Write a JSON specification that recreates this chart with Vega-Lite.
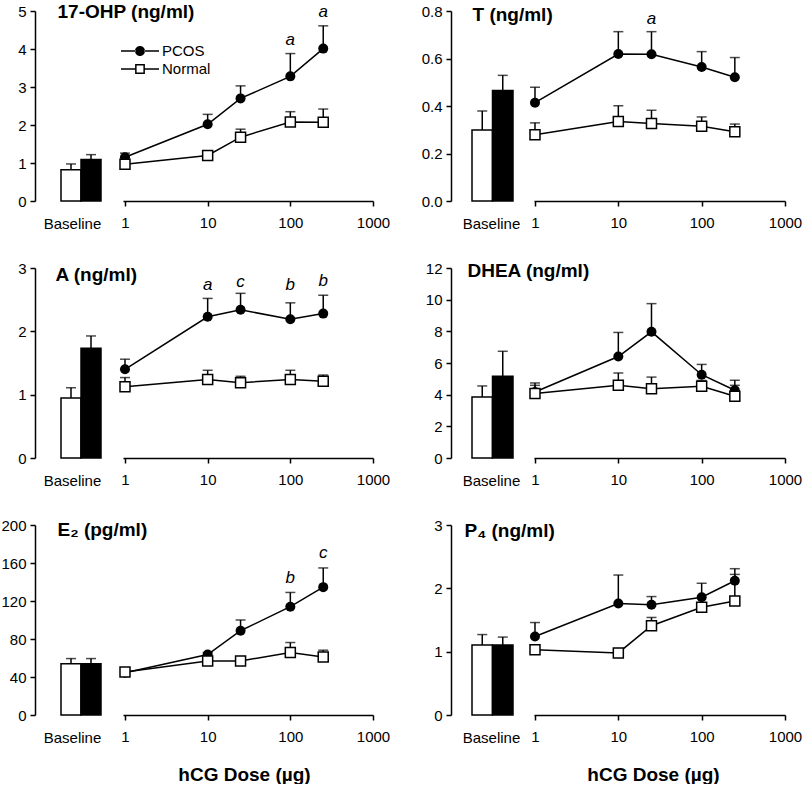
{
"$schema":"https://vega.github.io/schema/vega-lite/v6.json",
"background":"white",
"padding":{"left":0,"top":2,"right":0,"bottom":0},
"datasets":{
"pts":[
{"panel":"OHP","group":"PCOS","dose":1,"mean":1.15,"upper":1.26},
{"panel":"OHP","group":"PCOS","dose":10,"mean":2.02,"upper":2.28},
{"panel":"OHP","group":"PCOS","dose":25,"mean":2.70,"upper":3.03},
{"panel":"OHP","group":"PCOS","dose":100,"mean":3.28,"upper":3.88},
{"panel":"OHP","group":"PCOS","dose":250,"mean":4.01,"upper":4.61},
{"panel":"OHP","group":"Normal","dose":1,"mean":0.97,"upper":1.08},
{"panel":"OHP","group":"Normal","dose":10,"mean":1.20,"upper":1.25},
{"panel":"OHP","group":"Normal","dose":25,"mean":1.68,"upper":1.89},
{"panel":"OHP","group":"Normal","dose":100,"mean":2.08,"upper":2.35},
{"panel":"OHP","group":"Normal","dose":250,"mean":2.07,"upper":2.42},
{"panel":"T","group":"PCOS","dose":1,"mean":0.414,"upper":0.479},
{"panel":"T","group":"PCOS","dose":10,"mean":0.619,"upper":0.713},
{"panel":"T","group":"PCOS","dose":25,"mean":0.618,"upper":0.713},
{"panel":"T","group":"PCOS","dose":100,"mean":0.564,"upper":0.629},
{"panel":"T","group":"PCOS","dose":250,"mean":0.521,"upper":0.604},
{"panel":"T","group":"Normal","dose":1,"mean":0.279,"upper":0.329},
{"panel":"T","group":"Normal","dose":10,"mean":0.335,"upper":0.401},
{"panel":"T","group":"Normal","dose":25,"mean":0.326,"upper":0.382},
{"panel":"T","group":"Normal","dose":100,"mean":0.315,"upper":0.354},
{"panel":"T","group":"Normal","dose":250,"mean":0.292,"upper":0.324},
{"panel":"A","group":"PCOS","dose":1,"mean":1.40,"upper":1.56},
{"panel":"A","group":"PCOS","dose":10,"mean":2.23,"upper":2.52},
{"panel":"A","group":"PCOS","dose":25,"mean":2.34,"upper":2.60},
{"panel":"A","group":"PCOS","dose":100,"mean":2.19,"upper":2.45},
{"panel":"A","group":"PCOS","dose":250,"mean":2.28,"upper":2.57},
{"panel":"A","group":"Normal","dose":1,"mean":1.125,"upper":1.27},
{"panel":"A","group":"Normal","dose":10,"mean":1.24,"upper":1.385},
{"panel":"A","group":"Normal","dose":25,"mean":1.19,"upper":1.29},
{"panel":"A","group":"Normal","dose":100,"mean":1.24,"upper":1.385},
{"panel":"A","group":"Normal","dose":250,"mean":1.21,"upper":1.31},
{"panel":"DHEA","group":"PCOS","dose":1,"mean":4.17,"upper":4.74},
{"panel":"DHEA","group":"PCOS","dose":10,"mean":6.41,"upper":7.93},
{"panel":"DHEA","group":"PCOS","dose":25,"mean":7.97,"upper":9.75},
{"panel":"DHEA","group":"PCOS","dose":100,"mean":5.26,"upper":5.91},
{"panel":"DHEA","group":"PCOS","dose":250,"mean":4.28,"upper":4.91},
{"panel":"DHEA","group":"Normal","dose":1,"mean":4.07,"upper":4.59},
{"panel":"DHEA","group":"Normal","dose":10,"mean":4.59,"upper":5.37},
{"panel":"DHEA","group":"Normal","dose":25,"mean":4.38,"upper":5.11},
{"panel":"DHEA","group":"Normal","dose":100,"mean":4.53,"upper":4.9},
{"panel":"DHEA","group":"Normal","dose":250,"mean":3.90,"upper":4.59},
{"panel":"E2","group":"PCOS","dose":1,"mean":44.5,"upper":46},
{"panel":"E2","group":"PCOS","dose":10,"mean":63.6,"upper":65.7},
{"panel":"E2","group":"PCOS","dose":25,"mean":88.7,"upper":100},
{"panel":"E2","group":"PCOS","dose":100,"mean":114,"upper":129},
{"panel":"E2","group":"PCOS","dose":250,"mean":134.6,"upper":154.8},
{"panel":"E2","group":"Normal","dose":1,"mean":45.2,"upper":47},
{"panel":"E2","group":"Normal","dose":10,"mean":56.9,"upper":59},
{"panel":"E2","group":"Normal","dose":25,"mean":56.9,"upper":59},
{"panel":"E2","group":"Normal","dose":100,"mean":65.7,"upper":76.3},
{"panel":"E2","group":"Normal","dose":250,"mean":61.1,"upper":68.2},
{"panel":"P4","group":"PCOS","dose":1,"mean":1.24,"upper":1.46},
{"panel":"P4","group":"PCOS","dose":10,"mean":1.76,"upper":2.21},
{"panel":"P4","group":"PCOS","dose":25,"mean":1.74,"upper":1.87},
{"panel":"P4","group":"PCOS","dose":100,"mean":1.86,"upper":2.08},
{"panel":"P4","group":"PCOS","dose":250,"mean":2.12,"upper":2.31},
{"panel":"P4","group":"Normal","dose":1,"mean":1.03,"upper":1.08},
{"panel":"P4","group":"Normal","dose":10,"mean":0.98,"upper":1.0},
{"panel":"P4","group":"Normal","dose":25,"mean":1.41,"upper":1.54},
{"panel":"P4","group":"Normal","dose":100,"mean":1.70,"upper":1.75},
{"panel":"P4","group":"Normal","dose":250,"mean":1.80,"upper":2.22}
],
"base":[
{"panel":"OHP","group":"Normal","mean":0.82,"upper":0.975},
{"panel":"OHP","group":"PCOS","mean":1.09,"upper":1.22},
{"panel":"T","group":"Normal","mean":0.299,"upper":0.379},
{"panel":"T","group":"PCOS","mean":0.465,"upper":0.529},
{"panel":"A","group":"Normal","mean":0.948,"upper":1.109},
{"panel":"A","group":"PCOS","mean":1.734,"upper":1.927},
{"panel":"DHEA","group":"Normal","mean":3.86,"upper":4.55},
{"panel":"DHEA","group":"PCOS","mean":5.16,"upper":6.74},
{"panel":"E2","group":"Normal","mean":54,"upper":59.4},
{"panel":"E2","group":"PCOS","mean":54,"upper":59.4},
{"panel":"P4","group":"Normal","mean":1.106,"upper":1.27},
{"panel":"P4","group":"PCOS","mean":1.106,"upper":1.23}
],
"ann":[
{"panel":"OHP","dose":100,"y":4.10,"label":"a"},
{"panel":"OHP","dose":250,"y":4.83,"label":"a"},
{"panel":"T","dose":25,"y":0.747,"label":"a"},
{"panel":"A","dose":10,"y":2.646,"label":"a"},
{"panel":"A","dose":25,"y":2.70,"label":"c"},
{"panel":"A","dose":100,"y":2.646,"label":"b"},
{"panel":"A","dose":250,"y":2.71,"label":"b"},
{"panel":"E2","dose":100,"y":138.9,"label":"b"},
{"panel":"E2","dose":250,"y":165.4,"label":"c"}
]
},
"columns":2,
"spacing":{"row":67,"column":78},
"bounds":"flush",
"concat":[
{
"width":338,"height":190,
"resolve":{"scale":{"x":"independent"},"axis":{"x":"independent"}},
"layer":[
{"data":{"name":"base"},"transform":[{"filter":"datum.panel === 'OHP'"}],
"encoding":{"x":{"field":"group","type":"nominal","scale":{"domain":["Normal","PCOS"],"paddingInner":0,"paddingOuter":0,"range":[26,66]},"axis":{"orient":"bottom","domain":false,"ticks":false,"labels":false,"title":"Baseline","titleFontSize":15,"titleFontWeight":"normal","titleX":37,"titleY":27,"titleBaseline":"alphabetic","titleAlign":"center"}}},
"layer":[
{"mark":{"type":"rule","color":"black","strokeWidth":1.5},"encoding":{"y":{"field":"mean","type":"quantitative","scale":{"domain":[0,5],"nice":false},"axis":{"title":"17-OHP (ng/ml)","titleAngle":0,"titleAlign":"left","titleBaseline":"alphabetic","titleX":22,"titleY":6,"titleFontSize":19,"titleFontWeight":"bold","values":[0,1,2,3,4,5],"format":"d","labelPadding":4}},"y2":{"field":"upper"}}},
{"mark":{"type":"tick","orient":"horizontal","size":10,"thickness":1.5,"color":"black"},"encoding":{"y":{"field":"upper","type":"quantitative","scale":{"domain":[0,5],"nice":false},"axis":{"title":"17-OHP (ng/ml)","titleAngle":0,"titleAlign":"left","titleBaseline":"alphabetic","titleX":22,"titleY":6,"titleFontSize":19,"titleFontWeight":"bold","values":[0,1,2,3,4,5],"format":"d","labelPadding":4}}}},
{"mark":{"type":"bar","stroke":"black","strokeWidth":1.5},"encoding":{"y":{"field":"mean","type":"quantitative","scale":{"domain":[0,5],"nice":false},"axis":{"title":"17-OHP (ng/ml)","titleAngle":0,"titleAlign":"left","titleBaseline":"alphabetic","titleX":22,"titleY":6,"titleFontSize":19,"titleFontWeight":"bold","values":[0,1,2,3,4,5],"format":"d","labelPadding":4}},"fill":{"condition":{"test":"datum.group === 'PCOS'","value":"black"},"value":"white"}}}
]},
{"data":{"name":"pts"},"transform":[{"filter":"datum.panel === 'OHP'"}],
"encoding":{"x":{"field":"dose","type":"quantitative","scale":{"type":"log","domain":[0.946,1000],"range":[88,338],"nice":false},"axis":{"orient":"bottom","values":[1,10,100,1000],"format":"d","labelPadding":9,"title":null,"labelFlush":false,"labelOverlap":false}}},
"layer":[
{"mark":{"type":"rule","color":"black","strokeWidth":1.5},"encoding":{"y":{"field":"mean","type":"quantitative","scale":{"domain":[0,5],"nice":false},"axis":{"title":"17-OHP (ng/ml)","titleAngle":0,"titleAlign":"left","titleBaseline":"alphabetic","titleX":22,"titleY":6,"titleFontSize":19,"titleFontWeight":"bold","values":[0,1,2,3,4,5],"format":"d","labelPadding":4}},"y2":{"field":"upper"}}},
{"mark":{"type":"tick","orient":"horizontal","size":10,"thickness":1.5,"color":"black"},"encoding":{"y":{"field":"upper","type":"quantitative","scale":{"domain":[0,5],"nice":false},"axis":{"title":"17-OHP (ng/ml)","titleAngle":0,"titleAlign":"left","titleBaseline":"alphabetic","titleX":22,"titleY":6,"titleFontSize":19,"titleFontWeight":"bold","values":[0,1,2,3,4,5],"format":"d","labelPadding":4}}}},
{"mark":{"type":"line","color":"black","strokeWidth":1.5},"encoding":{"y":{"field":"mean","type":"quantitative","scale":{"domain":[0,5],"nice":false},"axis":{"title":"17-OHP (ng/ml)","titleAngle":0,"titleAlign":"left","titleBaseline":"alphabetic","titleX":22,"titleY":6,"titleFontSize":19,"titleFontWeight":"bold","values":[0,1,2,3,4,5],"format":"d","labelPadding":4}},"detail":{"field":"group"}}},
{"transform":[{"filter":"datum.group === 'PCOS'"}],"mark":{"type":"point","shape":"circle","filled":true,"color":"black","size":100,"opacity":1},"encoding":{"y":{"field":"mean","type":"quantitative","scale":{"domain":[0,5],"nice":false},"axis":{"title":"17-OHP (ng/ml)","titleAngle":0,"titleAlign":"left","titleBaseline":"alphabetic","titleX":22,"titleY":6,"titleFontSize":19,"titleFontWeight":"bold","values":[0,1,2,3,4,5],"format":"d","labelPadding":4}}}},
{"transform":[{"filter":"datum.group === 'Normal'"}],"mark":{"type":"point","shape":"square","filled":true,"fill":"white","stroke":"black","strokeWidth":1.5,"size":100,"opacity":1},"encoding":{"y":{"field":"mean","type":"quantitative","scale":{"domain":[0,5],"nice":false},"axis":{"title":"17-OHP (ng/ml)","titleAngle":0,"titleAlign":"left","titleBaseline":"alphabetic","titleX":22,"titleY":6,"titleFontSize":19,"titleFontWeight":"bold","values":[0,1,2,3,4,5],"format":"d","labelPadding":4}}}},
{"data":{"name":"ann"},"transform":[{"filter":"datum.panel === 'OHP'"}],"mark":{"type":"text","fontStyle":"italic","fontSize":17,"baseline":"alphabetic","align":"center","color":"black"},"encoding":{"y":{"field":"y","type":"quantitative","scale":{"domain":[0,5],"nice":false},"axis":{"title":"17-OHP (ng/ml)","titleAngle":0,"titleAlign":"left","titleBaseline":"alphabetic","titleX":22,"titleY":6,"titleFontSize":19,"titleFontWeight":"bold","values":[0,1,2,3,4,5],"format":"d","labelPadding":4}},"text":{"field":"label"}}}
]},
{"data":{"name":"pts"},"transform":[{"filter":"false"}],
"mark":{"type":"point","opacity":1,"filled":true,"color":"black"},
"encoding":{
"shape":{"field":"group","type":"nominal","scale":{"domain":["PCOS","Normal"],"range":["M-1.9,-0.075H-0.45V0.075H-1.9Z M0.45,-0.075H1.9V0.075H0.45Z M-0.5,0A0.5,0.5 0 1,0 0.5,0A0.5,0.5 0 1,0 -0.5,0Z","M-1.9,-0.075H-0.49V0.075H-1.9Z M0.49,-0.075H1.9V0.075H0.49Z M-0.49,-0.49H0.49V0.49H-0.49Z M-0.34,-0.34V0.34H0.34V-0.34Z"]},
"legend":{"title":null,"orient":"none","legendX":95,"legendY":30,"symbolSize":400,"symbolStrokeWidth":0,"symbolOpacity":1,"labelFontSize":15,"labelColor":"black","labelOffset":12,"rowPadding":0,"padding":0}}
}}
]
},
{
"width":338,"height":190,
"resolve":{"scale":{"x":"independent"},"axis":{"x":"independent"}},
"layer":[
{"data":{"name":"base"},"transform":[{"filter":"datum.panel === 'T'"}],
"encoding":{"x":{"field":"group","type":"nominal","scale":{"domain":["Normal","PCOS"],"paddingInner":0,"paddingOuter":0,"range":[21,62]},"axis":{"orient":"bottom","domain":false,"ticks":false,"labels":false,"title":"Baseline","titleFontSize":15,"titleFontWeight":"normal","titleX":40,"titleY":27,"titleBaseline":"alphabetic","titleAlign":"center"}}},
"layer":[
{"mark":{"type":"rule","color":"black","strokeWidth":1.5},"encoding":{"y":{"field":"mean","type":"quantitative","scale":{"domain":[0,0.8],"nice":false},"axis":{"title":"T (ng/ml)","titleAngle":0,"titleAlign":"left","titleBaseline":"alphabetic","titleX":21,"titleY":9,"titleFontSize":19,"titleFontWeight":"bold","values":[0,0.2,0.4,0.6,0.8],"format":".1f","labelPadding":4}},"y2":{"field":"upper"}}},
{"mark":{"type":"tick","orient":"horizontal","size":10,"thickness":1.5,"color":"black"},"encoding":{"y":{"field":"upper","type":"quantitative","scale":{"domain":[0,0.8],"nice":false},"axis":{"title":"T (ng/ml)","titleAngle":0,"titleAlign":"left","titleBaseline":"alphabetic","titleX":21,"titleY":9,"titleFontSize":19,"titleFontWeight":"bold","values":[0,0.2,0.4,0.6,0.8],"format":".1f","labelPadding":4}}}},
{"mark":{"type":"bar","stroke":"black","strokeWidth":1.5},"encoding":{"y":{"field":"mean","type":"quantitative","scale":{"domain":[0,0.8],"nice":false},"axis":{"title":"T (ng/ml)","titleAngle":0,"titleAlign":"left","titleBaseline":"alphabetic","titleX":21,"titleY":9,"titleFontSize":19,"titleFontWeight":"bold","values":[0,0.2,0.4,0.6,0.8],"format":".1f","labelPadding":4}},"fill":{"condition":{"test":"datum.group === 'PCOS'","value":"black"},"value":"white"}}}
]},
{"data":{"name":"pts"},"transform":[{"filter":"datum.panel === 'T'"}],
"encoding":{"x":{"field":"dose","type":"quantitative","scale":{"type":"log","domain":[0.973,1000],"range":[83,334],"nice":false},"axis":{"orient":"bottom","values":[1,10,100,1000],"format":"d","labelPadding":9,"title":null,"labelFlush":false,"labelOverlap":false}}},
"layer":[
{"mark":{"type":"rule","color":"black","strokeWidth":1.5},"encoding":{"y":{"field":"mean","type":"quantitative","scale":{"domain":[0,0.8],"nice":false},"axis":{"title":"T (ng/ml)","titleAngle":0,"titleAlign":"left","titleBaseline":"alphabetic","titleX":21,"titleY":9,"titleFontSize":19,"titleFontWeight":"bold","values":[0,0.2,0.4,0.6,0.8],"format":".1f","labelPadding":4}},"y2":{"field":"upper"}}},
{"mark":{"type":"tick","orient":"horizontal","size":10,"thickness":1.5,"color":"black"},"encoding":{"y":{"field":"upper","type":"quantitative","scale":{"domain":[0,0.8],"nice":false},"axis":{"title":"T (ng/ml)","titleAngle":0,"titleAlign":"left","titleBaseline":"alphabetic","titleX":21,"titleY":9,"titleFontSize":19,"titleFontWeight":"bold","values":[0,0.2,0.4,0.6,0.8],"format":".1f","labelPadding":4}}}},
{"mark":{"type":"line","color":"black","strokeWidth":1.5},"encoding":{"y":{"field":"mean","type":"quantitative","scale":{"domain":[0,0.8],"nice":false},"axis":{"title":"T (ng/ml)","titleAngle":0,"titleAlign":"left","titleBaseline":"alphabetic","titleX":21,"titleY":9,"titleFontSize":19,"titleFontWeight":"bold","values":[0,0.2,0.4,0.6,0.8],"format":".1f","labelPadding":4}},"detail":{"field":"group"}}},
{"transform":[{"filter":"datum.group === 'PCOS'"}],"mark":{"type":"point","shape":"circle","filled":true,"color":"black","size":100,"opacity":1},"encoding":{"y":{"field":"mean","type":"quantitative","scale":{"domain":[0,0.8],"nice":false},"axis":{"title":"T (ng/ml)","titleAngle":0,"titleAlign":"left","titleBaseline":"alphabetic","titleX":21,"titleY":9,"titleFontSize":19,"titleFontWeight":"bold","values":[0,0.2,0.4,0.6,0.8],"format":".1f","labelPadding":4}}}},
{"transform":[{"filter":"datum.group === 'Normal'"}],"mark":{"type":"point","shape":"square","filled":true,"fill":"white","stroke":"black","strokeWidth":1.5,"size":100,"opacity":1},"encoding":{"y":{"field":"mean","type":"quantitative","scale":{"domain":[0,0.8],"nice":false},"axis":{"title":"T (ng/ml)","titleAngle":0,"titleAlign":"left","titleBaseline":"alphabetic","titleX":21,"titleY":9,"titleFontSize":19,"titleFontWeight":"bold","values":[0,0.2,0.4,0.6,0.8],"format":".1f","labelPadding":4}}}},
{"data":{"name":"ann"},"transform":[{"filter":"datum.panel === 'T'"}],"mark":{"type":"text","fontStyle":"italic","fontSize":17,"baseline":"alphabetic","align":"center","color":"black"},"encoding":{"y":{"field":"y","type":"quantitative","scale":{"domain":[0,0.8],"nice":false},"axis":{"title":"T (ng/ml)","titleAngle":0,"titleAlign":"left","titleBaseline":"alphabetic","titleX":21,"titleY":9,"titleFontSize":19,"titleFontWeight":"bold","values":[0,0.2,0.4,0.6,0.8],"format":".1f","labelPadding":4}},"text":{"field":"label"}}}
]}
]
},
{
"width":338,"height":190,
"resolve":{"scale":{"x":"independent"},"axis":{"x":"independent"}},
"layer":[
{"data":{"name":"base"},"transform":[{"filter":"datum.panel === 'A'"}],
"encoding":{"x":{"field":"group","type":"nominal","scale":{"domain":["Normal","PCOS"],"paddingInner":0,"paddingOuter":0,"range":[26,66]},"axis":{"orient":"bottom","domain":false,"ticks":false,"labels":false,"title":"Baseline","titleFontSize":15,"titleFontWeight":"normal","titleX":37,"titleY":27,"titleBaseline":"alphabetic","titleAlign":"center"}}},
"layer":[
{"mark":{"type":"rule","color":"black","strokeWidth":1.5},"encoding":{"y":{"field":"mean","type":"quantitative","scale":{"domain":[0,3],"nice":false},"axis":{"title":"A (ng/ml)","titleAngle":0,"titleAlign":"left","titleBaseline":"alphabetic","titleX":20,"titleY":12,"titleFontSize":19,"titleFontWeight":"bold","values":[0,1,2,3],"format":"d","labelPadding":4}},"y2":{"field":"upper"}}},
{"mark":{"type":"tick","orient":"horizontal","size":10,"thickness":1.5,"color":"black"},"encoding":{"y":{"field":"upper","type":"quantitative","scale":{"domain":[0,3],"nice":false},"axis":{"title":"A (ng/ml)","titleAngle":0,"titleAlign":"left","titleBaseline":"alphabetic","titleX":20,"titleY":12,"titleFontSize":19,"titleFontWeight":"bold","values":[0,1,2,3],"format":"d","labelPadding":4}}}},
{"mark":{"type":"bar","stroke":"black","strokeWidth":1.5},"encoding":{"y":{"field":"mean","type":"quantitative","scale":{"domain":[0,3],"nice":false},"axis":{"title":"A (ng/ml)","titleAngle":0,"titleAlign":"left","titleBaseline":"alphabetic","titleX":20,"titleY":12,"titleFontSize":19,"titleFontWeight":"bold","values":[0,1,2,3],"format":"d","labelPadding":4}},"fill":{"condition":{"test":"datum.group === 'PCOS'","value":"black"},"value":"white"}}}
]},
{"data":{"name":"pts"},"transform":[{"filter":"datum.panel === 'A'"}],
"encoding":{"x":{"field":"dose","type":"quantitative","scale":{"type":"log","domain":[0.946,1000],"range":[88,338],"nice":false},"axis":{"orient":"bottom","values":[1,10,100,1000],"format":"d","labelPadding":9,"title":null,"labelFlush":false,"labelOverlap":false}}},
"layer":[
{"mark":{"type":"rule","color":"black","strokeWidth":1.5},"encoding":{"y":{"field":"mean","type":"quantitative","scale":{"domain":[0,3],"nice":false},"axis":{"title":"A (ng/ml)","titleAngle":0,"titleAlign":"left","titleBaseline":"alphabetic","titleX":20,"titleY":12,"titleFontSize":19,"titleFontWeight":"bold","values":[0,1,2,3],"format":"d","labelPadding":4}},"y2":{"field":"upper"}}},
{"mark":{"type":"tick","orient":"horizontal","size":10,"thickness":1.5,"color":"black"},"encoding":{"y":{"field":"upper","type":"quantitative","scale":{"domain":[0,3],"nice":false},"axis":{"title":"A (ng/ml)","titleAngle":0,"titleAlign":"left","titleBaseline":"alphabetic","titleX":20,"titleY":12,"titleFontSize":19,"titleFontWeight":"bold","values":[0,1,2,3],"format":"d","labelPadding":4}}}},
{"mark":{"type":"line","color":"black","strokeWidth":1.5},"encoding":{"y":{"field":"mean","type":"quantitative","scale":{"domain":[0,3],"nice":false},"axis":{"title":"A (ng/ml)","titleAngle":0,"titleAlign":"left","titleBaseline":"alphabetic","titleX":20,"titleY":12,"titleFontSize":19,"titleFontWeight":"bold","values":[0,1,2,3],"format":"d","labelPadding":4}},"detail":{"field":"group"}}},
{"transform":[{"filter":"datum.group === 'PCOS'"}],"mark":{"type":"point","shape":"circle","filled":true,"color":"black","size":100,"opacity":1},"encoding":{"y":{"field":"mean","type":"quantitative","scale":{"domain":[0,3],"nice":false},"axis":{"title":"A (ng/ml)","titleAngle":0,"titleAlign":"left","titleBaseline":"alphabetic","titleX":20,"titleY":12,"titleFontSize":19,"titleFontWeight":"bold","values":[0,1,2,3],"format":"d","labelPadding":4}}}},
{"transform":[{"filter":"datum.group === 'Normal'"}],"mark":{"type":"point","shape":"square","filled":true,"fill":"white","stroke":"black","strokeWidth":1.5,"size":100,"opacity":1},"encoding":{"y":{"field":"mean","type":"quantitative","scale":{"domain":[0,3],"nice":false},"axis":{"title":"A (ng/ml)","titleAngle":0,"titleAlign":"left","titleBaseline":"alphabetic","titleX":20,"titleY":12,"titleFontSize":19,"titleFontWeight":"bold","values":[0,1,2,3],"format":"d","labelPadding":4}}}},
{"data":{"name":"ann"},"transform":[{"filter":"datum.panel === 'A'"}],"mark":{"type":"text","fontStyle":"italic","fontSize":17,"baseline":"alphabetic","align":"center","color":"black"},"encoding":{"y":{"field":"y","type":"quantitative","scale":{"domain":[0,3],"nice":false},"axis":{"title":"A (ng/ml)","titleAngle":0,"titleAlign":"left","titleBaseline":"alphabetic","titleX":20,"titleY":12,"titleFontSize":19,"titleFontWeight":"bold","values":[0,1,2,3],"format":"d","labelPadding":4}},"text":{"field":"label"}}}
]}
]
},
{
"width":338,"height":190,
"resolve":{"scale":{"x":"independent"},"axis":{"x":"independent"}},
"layer":[
{"data":{"name":"base"},"transform":[{"filter":"datum.panel === 'DHEA'"}],
"encoding":{"x":{"field":"group","type":"nominal","scale":{"domain":["Normal","PCOS"],"paddingInner":0,"paddingOuter":0,"range":[21,62]},"axis":{"orient":"bottom","domain":false,"ticks":false,"labels":false,"title":"Baseline","titleFontSize":15,"titleFontWeight":"normal","titleX":40,"titleY":27,"titleBaseline":"alphabetic","titleAlign":"center"}}},
"layer":[
{"mark":{"type":"rule","color":"black","strokeWidth":1.5},"encoding":{"y":{"field":"mean","type":"quantitative","scale":{"domain":[0,12],"nice":false},"axis":{"title":"DHEA (ng/ml)","titleAngle":0,"titleAlign":"left","titleBaseline":"alphabetic","titleX":16,"titleY":8,"titleFontSize":19,"titleFontWeight":"bold","values":[0,2,4,6,8,10,12],"format":"d","labelPadding":4}},"y2":{"field":"upper"}}},
{"mark":{"type":"tick","orient":"horizontal","size":10,"thickness":1.5,"color":"black"},"encoding":{"y":{"field":"upper","type":"quantitative","scale":{"domain":[0,12],"nice":false},"axis":{"title":"DHEA (ng/ml)","titleAngle":0,"titleAlign":"left","titleBaseline":"alphabetic","titleX":16,"titleY":8,"titleFontSize":19,"titleFontWeight":"bold","values":[0,2,4,6,8,10,12],"format":"d","labelPadding":4}}}},
{"mark":{"type":"bar","stroke":"black","strokeWidth":1.5},"encoding":{"y":{"field":"mean","type":"quantitative","scale":{"domain":[0,12],"nice":false},"axis":{"title":"DHEA (ng/ml)","titleAngle":0,"titleAlign":"left","titleBaseline":"alphabetic","titleX":16,"titleY":8,"titleFontSize":19,"titleFontWeight":"bold","values":[0,2,4,6,8,10,12],"format":"d","labelPadding":4}},"fill":{"condition":{"test":"datum.group === 'PCOS'","value":"black"},"value":"white"}}}
]},
{"data":{"name":"pts"},"transform":[{"filter":"datum.panel === 'DHEA'"}],
"encoding":{"x":{"field":"dose","type":"quantitative","scale":{"type":"log","domain":[0.973,1000],"range":[83,334],"nice":false},"axis":{"orient":"bottom","values":[1,10,100,1000],"format":"d","labelPadding":9,"title":null,"labelFlush":false,"labelOverlap":false}}},
"layer":[
{"mark":{"type":"rule","color":"black","strokeWidth":1.5},"encoding":{"y":{"field":"mean","type":"quantitative","scale":{"domain":[0,12],"nice":false},"axis":{"title":"DHEA (ng/ml)","titleAngle":0,"titleAlign":"left","titleBaseline":"alphabetic","titleX":16,"titleY":8,"titleFontSize":19,"titleFontWeight":"bold","values":[0,2,4,6,8,10,12],"format":"d","labelPadding":4}},"y2":{"field":"upper"}}},
{"mark":{"type":"tick","orient":"horizontal","size":10,"thickness":1.5,"color":"black"},"encoding":{"y":{"field":"upper","type":"quantitative","scale":{"domain":[0,12],"nice":false},"axis":{"title":"DHEA (ng/ml)","titleAngle":0,"titleAlign":"left","titleBaseline":"alphabetic","titleX":16,"titleY":8,"titleFontSize":19,"titleFontWeight":"bold","values":[0,2,4,6,8,10,12],"format":"d","labelPadding":4}}}},
{"mark":{"type":"line","color":"black","strokeWidth":1.5},"encoding":{"y":{"field":"mean","type":"quantitative","scale":{"domain":[0,12],"nice":false},"axis":{"title":"DHEA (ng/ml)","titleAngle":0,"titleAlign":"left","titleBaseline":"alphabetic","titleX":16,"titleY":8,"titleFontSize":19,"titleFontWeight":"bold","values":[0,2,4,6,8,10,12],"format":"d","labelPadding":4}},"detail":{"field":"group"}}},
{"transform":[{"filter":"datum.group === 'PCOS'"}],"mark":{"type":"point","shape":"circle","filled":true,"color":"black","size":100,"opacity":1},"encoding":{"y":{"field":"mean","type":"quantitative","scale":{"domain":[0,12],"nice":false},"axis":{"title":"DHEA (ng/ml)","titleAngle":0,"titleAlign":"left","titleBaseline":"alphabetic","titleX":16,"titleY":8,"titleFontSize":19,"titleFontWeight":"bold","values":[0,2,4,6,8,10,12],"format":"d","labelPadding":4}}}},
{"transform":[{"filter":"datum.group === 'Normal'"}],"mark":{"type":"point","shape":"square","filled":true,"fill":"white","stroke":"black","strokeWidth":1.5,"size":100,"opacity":1},"encoding":{"y":{"field":"mean","type":"quantitative","scale":{"domain":[0,12],"nice":false},"axis":{"title":"DHEA (ng/ml)","titleAngle":0,"titleAlign":"left","titleBaseline":"alphabetic","titleX":16,"titleY":8,"titleFontSize":19,"titleFontWeight":"bold","values":[0,2,4,6,8,10,12],"format":"d","labelPadding":4}}}}
]}
]
},
{
"width":338,"height":190,
"resolve":{"scale":{"x":"independent"},"axis":{"x":"independent"}},
"layer":[
{"data":{"name":"base"},"transform":[{"filter":"datum.panel === 'E2'"}],
"encoding":{"x":{"field":"group","type":"nominal","scale":{"domain":["Normal","PCOS"],"paddingInner":0,"paddingOuter":0,"range":[26,66]},"axis":{"orient":"bottom","domain":false,"ticks":false,"labels":false,"title":"Baseline","titleFontSize":15,"titleFontWeight":"normal","titleX":37,"titleY":27,"titleBaseline":"alphabetic","titleAlign":"center"}}},
"layer":[
{"mark":{"type":"rule","color":"black","strokeWidth":1.5},"encoding":{"y":{"field":"mean","type":"quantitative","scale":{"domain":[0,200],"nice":false},"axis":{"title":"E₂ (pg/ml)","titleAngle":0,"titleAlign":"left","titleBaseline":"alphabetic","titleX":22,"titleY":10,"titleFontSize":19,"titleFontWeight":"bold","values":[0,40,80,120,160,200],"format":"d","labelPadding":4}},"y2":{"field":"upper"}}},
{"mark":{"type":"tick","orient":"horizontal","size":10,"thickness":1.5,"color":"black"},"encoding":{"y":{"field":"upper","type":"quantitative","scale":{"domain":[0,200],"nice":false},"axis":{"title":"E₂ (pg/ml)","titleAngle":0,"titleAlign":"left","titleBaseline":"alphabetic","titleX":22,"titleY":10,"titleFontSize":19,"titleFontWeight":"bold","values":[0,40,80,120,160,200],"format":"d","labelPadding":4}}}},
{"mark":{"type":"bar","stroke":"black","strokeWidth":1.5},"encoding":{"y":{"field":"mean","type":"quantitative","scale":{"domain":[0,200],"nice":false},"axis":{"title":"E₂ (pg/ml)","titleAngle":0,"titleAlign":"left","titleBaseline":"alphabetic","titleX":22,"titleY":10,"titleFontSize":19,"titleFontWeight":"bold","values":[0,40,80,120,160,200],"format":"d","labelPadding":4}},"fill":{"condition":{"test":"datum.group === 'PCOS'","value":"black"},"value":"white"}}}
]},
{"data":{"name":"pts"},"transform":[{"filter":"datum.panel === 'E2'"}],
"encoding":{"x":{"field":"dose","type":"quantitative","scale":{"type":"log","domain":[0.946,1000],"range":[88,338],"nice":false},"axis":{"orient":"bottom","values":[1,10,100,1000],"format":"d","labelPadding":9,"title":"hCG Dose (µg)","titleFontSize":19,"titleFontWeight":"bold","titleX":209,"titleY":65,"titleBaseline":"alphabetic","titleAlign":"center","labelFlush":false,"labelOverlap":false}}},
"layer":[
{"mark":{"type":"rule","color":"black","strokeWidth":1.5},"encoding":{"y":{"field":"mean","type":"quantitative","scale":{"domain":[0,200],"nice":false},"axis":{"title":"E₂ (pg/ml)","titleAngle":0,"titleAlign":"left","titleBaseline":"alphabetic","titleX":22,"titleY":10,"titleFontSize":19,"titleFontWeight":"bold","values":[0,40,80,120,160,200],"format":"d","labelPadding":4}},"y2":{"field":"upper"}}},
{"mark":{"type":"tick","orient":"horizontal","size":10,"thickness":1.5,"color":"black"},"encoding":{"y":{"field":"upper","type":"quantitative","scale":{"domain":[0,200],"nice":false},"axis":{"title":"E₂ (pg/ml)","titleAngle":0,"titleAlign":"left","titleBaseline":"alphabetic","titleX":22,"titleY":10,"titleFontSize":19,"titleFontWeight":"bold","values":[0,40,80,120,160,200],"format":"d","labelPadding":4}}}},
{"mark":{"type":"line","color":"black","strokeWidth":1.5},"encoding":{"y":{"field":"mean","type":"quantitative","scale":{"domain":[0,200],"nice":false},"axis":{"title":"E₂ (pg/ml)","titleAngle":0,"titleAlign":"left","titleBaseline":"alphabetic","titleX":22,"titleY":10,"titleFontSize":19,"titleFontWeight":"bold","values":[0,40,80,120,160,200],"format":"d","labelPadding":4}},"detail":{"field":"group"}}},
{"transform":[{"filter":"datum.group === 'PCOS'"}],"mark":{"type":"point","shape":"circle","filled":true,"color":"black","size":100,"opacity":1},"encoding":{"y":{"field":"mean","type":"quantitative","scale":{"domain":[0,200],"nice":false},"axis":{"title":"E₂ (pg/ml)","titleAngle":0,"titleAlign":"left","titleBaseline":"alphabetic","titleX":22,"titleY":10,"titleFontSize":19,"titleFontWeight":"bold","values":[0,40,80,120,160,200],"format":"d","labelPadding":4}}}},
{"transform":[{"filter":"datum.group === 'Normal'"}],"mark":{"type":"point","shape":"square","filled":true,"fill":"white","stroke":"black","strokeWidth":1.5,"size":100,"opacity":1},"encoding":{"y":{"field":"mean","type":"quantitative","scale":{"domain":[0,200],"nice":false},"axis":{"title":"E₂ (pg/ml)","titleAngle":0,"titleAlign":"left","titleBaseline":"alphabetic","titleX":22,"titleY":10,"titleFontSize":19,"titleFontWeight":"bold","values":[0,40,80,120,160,200],"format":"d","labelPadding":4}}}},
{"data":{"name":"ann"},"transform":[{"filter":"datum.panel === 'E2'"}],"mark":{"type":"text","fontStyle":"italic","fontSize":17,"baseline":"alphabetic","align":"center","color":"black"},"encoding":{"y":{"field":"y","type":"quantitative","scale":{"domain":[0,200],"nice":false},"axis":{"title":"E₂ (pg/ml)","titleAngle":0,"titleAlign":"left","titleBaseline":"alphabetic","titleX":22,"titleY":10,"titleFontSize":19,"titleFontWeight":"bold","values":[0,40,80,120,160,200],"format":"d","labelPadding":4}},"text":{"field":"label"}}}
]}
]
},
{
"width":338,"height":190,
"resolve":{"scale":{"x":"independent"},"axis":{"x":"independent"}},
"layer":[
{"data":{"name":"base"},"transform":[{"filter":"datum.panel === 'P4'"}],
"encoding":{"x":{"field":"group","type":"nominal","scale":{"domain":["Normal","PCOS"],"paddingInner":0,"paddingOuter":0,"range":[21,62]},"axis":{"orient":"bottom","domain":false,"ticks":false,"labels":false,"title":"Baseline","titleFontSize":15,"titleFontWeight":"normal","titleX":40,"titleY":27,"titleBaseline":"alphabetic","titleAlign":"center"}}},
"layer":[
{"mark":{"type":"rule","color":"black","strokeWidth":1.5},"encoding":{"y":{"field":"mean","type":"quantitative","scale":{"domain":[0,3],"nice":false},"axis":{"title":"P₄ (ng/ml)","titleAngle":0,"titleAlign":"left","titleBaseline":"alphabetic","titleX":13,"titleY":11,"titleFontSize":19,"titleFontWeight":"bold","values":[0,1,2,3],"format":"d","labelPadding":4}},"y2":{"field":"upper"}}},
{"mark":{"type":"tick","orient":"horizontal","size":10,"thickness":1.5,"color":"black"},"encoding":{"y":{"field":"upper","type":"quantitative","scale":{"domain":[0,3],"nice":false},"axis":{"title":"P₄ (ng/ml)","titleAngle":0,"titleAlign":"left","titleBaseline":"alphabetic","titleX":13,"titleY":11,"titleFontSize":19,"titleFontWeight":"bold","values":[0,1,2,3],"format":"d","labelPadding":4}}}},
{"mark":{"type":"bar","stroke":"black","strokeWidth":1.5},"encoding":{"y":{"field":"mean","type":"quantitative","scale":{"domain":[0,3],"nice":false},"axis":{"title":"P₄ (ng/ml)","titleAngle":0,"titleAlign":"left","titleBaseline":"alphabetic","titleX":13,"titleY":11,"titleFontSize":19,"titleFontWeight":"bold","values":[0,1,2,3],"format":"d","labelPadding":4}},"fill":{"condition":{"test":"datum.group === 'PCOS'","value":"black"},"value":"white"}}}
]},
{"data":{"name":"pts"},"transform":[{"filter":"datum.panel === 'P4'"}],
"encoding":{"x":{"field":"dose","type":"quantitative","scale":{"type":"log","domain":[0.973,1000],"range":[83,334],"nice":false},"axis":{"orient":"bottom","values":[1,10,100,1000],"format":"d","labelPadding":9,"title":"hCG Dose (µg)","titleFontSize":19,"titleFontWeight":"bold","titleX":202,"titleY":65,"titleBaseline":"alphabetic","titleAlign":"center","labelFlush":false,"labelOverlap":false}}},
"layer":[
{"mark":{"type":"rule","color":"black","strokeWidth":1.5},"encoding":{"y":{"field":"mean","type":"quantitative","scale":{"domain":[0,3],"nice":false},"axis":{"title":"P₄ (ng/ml)","titleAngle":0,"titleAlign":"left","titleBaseline":"alphabetic","titleX":13,"titleY":11,"titleFontSize":19,"titleFontWeight":"bold","values":[0,1,2,3],"format":"d","labelPadding":4}},"y2":{"field":"upper"}}},
{"mark":{"type":"tick","orient":"horizontal","size":10,"thickness":1.5,"color":"black"},"encoding":{"y":{"field":"upper","type":"quantitative","scale":{"domain":[0,3],"nice":false},"axis":{"title":"P₄ (ng/ml)","titleAngle":0,"titleAlign":"left","titleBaseline":"alphabetic","titleX":13,"titleY":11,"titleFontSize":19,"titleFontWeight":"bold","values":[0,1,2,3],"format":"d","labelPadding":4}}}},
{"mark":{"type":"line","color":"black","strokeWidth":1.5},"encoding":{"y":{"field":"mean","type":"quantitative","scale":{"domain":[0,3],"nice":false},"axis":{"title":"P₄ (ng/ml)","titleAngle":0,"titleAlign":"left","titleBaseline":"alphabetic","titleX":13,"titleY":11,"titleFontSize":19,"titleFontWeight":"bold","values":[0,1,2,3],"format":"d","labelPadding":4}},"detail":{"field":"group"}}},
{"transform":[{"filter":"datum.group === 'PCOS'"}],"mark":{"type":"point","shape":"circle","filled":true,"color":"black","size":100,"opacity":1},"encoding":{"y":{"field":"mean","type":"quantitative","scale":{"domain":[0,3],"nice":false},"axis":{"title":"P₄ (ng/ml)","titleAngle":0,"titleAlign":"left","titleBaseline":"alphabetic","titleX":13,"titleY":11,"titleFontSize":19,"titleFontWeight":"bold","values":[0,1,2,3],"format":"d","labelPadding":4}}}},
{"transform":[{"filter":"datum.group === 'Normal'"}],"mark":{"type":"point","shape":"square","filled":true,"fill":"white","stroke":"black","strokeWidth":1.5,"size":100,"opacity":1},"encoding":{"y":{"field":"mean","type":"quantitative","scale":{"domain":[0,3],"nice":false},"axis":{"title":"P₄ (ng/ml)","titleAngle":0,"titleAlign":"left","titleBaseline":"alphabetic","titleX":13,"titleY":11,"titleFontSize":19,"titleFontWeight":"bold","values":[0,1,2,3],"format":"d","labelPadding":4}}}}
]}
]
}
],
"config":{
"view":{"stroke":null},
"font":"Liberation Sans",
"axis":{"domainColor":"black","domainWidth":1.5,"tickColor":"black","tickWidth":1.5,"tickSize":5,"labelColor":"black","labelFontSize":15,"labelFont":"Liberation Sans","titleFont":"Liberation Sans","titleColor":"black","grid":false},
"legend":{"labelFont":"Liberation Sans"}
}
}
